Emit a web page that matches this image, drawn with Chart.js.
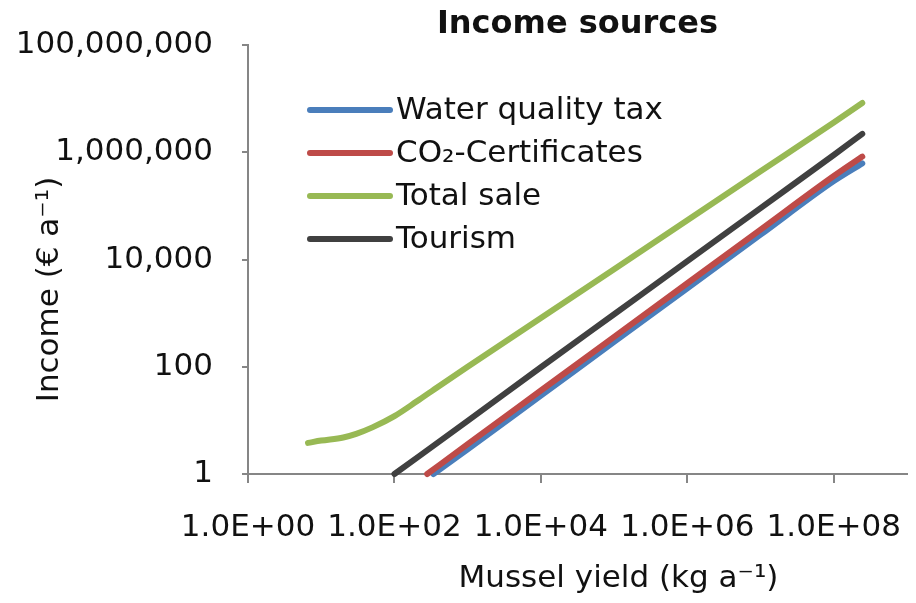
<!DOCTYPE html>
<html>
<head>
<meta charset="utf-8">
<script src="https://cdn.jsdelivr.net/npm/chart.js@4.4.1/dist/chart.umd.min.js"></script>
<style>
  body { margin: 0; background: #fff; }
  canvas { display: block; }
</style>
</head>
<body>
<canvas id="grafico" width="916" height="603"></canvas>
<script>
// Datos (eje x: rendimiento de mejillón, eje y: ingresos)
const xWater = [340, 1e3, 1e4, 1e5, 1e6, 1e7, 1e8, 2.45e8];
const waterTax = [1, 2.9, 29, 290, 2900, 29000, 290000, 620000];

const xCo2 = [280, 1e3, 1e4, 1e5, 1e6, 1e7, 1e8, 2.45e8];
const co2Cert = [1, 3.6, 36, 360, 3600, 36000, 360000, 830000];

const xTotal = [6.6, 10, 20, 30, 50, 100, 200, 400, 1e3, 1e4, 1e5, 1e6, 1e7, 1e8, 2.45e8];
const totalSale = [3.8, 4.2, 4.8, 5.6, 7.4, 12, 22.4, 43, 100, 810, 6600, 54000, 440000, 3.6e6, 8.3e6];

const xTourism = [100, 1e3, 1e4, 1e5, 1e6, 1e7, 1e8, 2.45e8];
const tourism = [1, 9.8, 98, 955, 9300, 91000, 890000, 2.2e6];

const xTickValues = [1, 1e2, 1e4, 1e6, 1e8];
const xTickLabels = ['1.0E+00', '1.0E+02', '1.0E+04', '1.0E+06', '1.0E+08'];
const yTickValues = [1, 1e2, 1e4, 1e6, 1e8];
const yTickLabels = ['1', '100', '10,000', '1,000,000', '100,000,000'];

const seriesNames = ['Water quality tax', 'CO\u2082-Certificates', 'Total sale', 'Tourism'];
const seriesColors = ['#4a7ebb', '#be4b48', '#98b954', '#404040'];

const FONT = '"DejaVu Sans", "Liberation Sans", Arial, sans-serif';
const AXIS_COLOR = '#868686';

// Junta los x con los y en pares {x, y}
function pares(xs, ys) {
    return xs.map((x, i) => ({ x: x, y: ys[i] }));
}

const series = [
    pares(xWater, waterTax),
    pares(xCo2, co2Cert),
    pares(xTotal, totalSale),
    pares(xTourism, tourism)
];

const datasets = series.map((data, i) => ({
    label: seriesNames[i],
    data: data,
    borderColor: seriesColors[i],
    backgroundColor: seriesColors[i],
    borderWidth: 6,
    borderCapStyle: 'round',
    borderJoinStyle: 'round',
    pointRadius: 0,
    cubicInterpolationMode: 'monotone',
    fill: false,
    clip: false,
    order: [1, 0, 2, 3][i]
}));

// Título, títulos de ejes y leyenda dibujados a mano
const decoracion = {
    id: 'decoracion',
    afterDraw(chart) {
        const { ctx, chartArea: a } = chart;
        const centroX = (a.left + a.right) / 2;
        ctx.save();
        ctx.fillStyle = '#111';
        ctx.textAlign = 'center';
        ctx.textBaseline = 'middle';

        ctx.font = 'bold 32px ' + FONT;
        ctx.fillText('Income sources', centroX, 25);

        ctx.font = '31px ' + FONT;
        ctx.fillText('Mussel yield (kg a\u207B\u00B9)', centroX + 41, 579);

        ctx.save();
        ctx.translate(50, (a.top + a.bottom) / 2 + 30);
        ctx.rotate(-Math.PI / 2);
        ctx.fillText('Income (\u20AC a\u207B\u00B9)', 0, 0);
        ctx.restore();

        // Leyenda
        ctx.textAlign = 'left';
        chart.data.datasets.forEach((ds, i) => {
            const y = a.top + 65 + i * 43;
            ctx.strokeStyle = ds.borderColor;
            ctx.lineWidth = 6;
            ctx.lineCap = 'round';
            ctx.beginPath();
            ctx.moveTo(a.left + 62, y);
            ctx.lineTo(a.left + 142, y);
            ctx.stroke();
            ctx.fillText(ds.label, a.left + 148, y + 1);
        });
        ctx.restore();
    }
};

const config = {
    type: 'line',
    data: { datasets: datasets },
    options: {
        responsive: false,
        animation: false,
        layout: {
            padding: { top: 45, right: 9, left: 0, bottom: 0 }
        },
        plugins: {
            legend: { display: false },
            tooltip: { enabled: false },
            title: { display: false }
        },
        scales: {
            x: {
                type: 'logarithmic',
                min: 1,
                max: 1e9,
                afterBuildTicks: scale => {
                    scale.ticks = xTickValues.map(v => ({ value: v }));
                },
                afterFit: scale => {
                    scale.height = 129;
                    // sin relleno extra por las etiquetas de los extremos
                    scale.paddingLeft = 0;
                    scale.paddingRight = 0;
                },
                ticks: {
                    callback: (value) => xTickLabels[xTickValues.indexOf(value)],
                    font: { family: FONT, size: 31 },
                    color: '#111',
                    padding: 26,
                    maxRotation: 0,
                    autoSkip: false
                },
                grid: {
                    drawOnChartArea: false,
                    tickLength: 9,
                    color: AXIS_COLOR,
                    lineWidth: 2
                },
                border: { color: AXIS_COLOR, width: 2 }
            },
            y: {
                type: 'logarithmic',
                min: 1,
                max: 1e8,
                afterBuildTicks: scale => {
                    scale.ticks = yTickValues.map(v => ({ value: v }));
                },
                afterFit: scale => {
                    scale.width = 248;
                    scale.paddingTop = 0;
                    scale.paddingBottom = 0;
                },
                ticks: {
                    callback: (value) => yTickLabels[yTickValues.indexOf(value)],
                    font: { family: FONT, size: 31 },
                    color: '#111',
                    padding: 29,
                    autoSkip: false
                },
                grid: {
                    drawOnChartArea: false,
                    tickLength: 6,
                    color: AXIS_COLOR,
                    lineWidth: 2
                },
                border: { color: AXIS_COLOR, width: 2 }
            }
        }
    },
    plugins: [decoracion]
};

new Chart(document.getElementById('grafico'), config);
</script>
</body>
</html>
